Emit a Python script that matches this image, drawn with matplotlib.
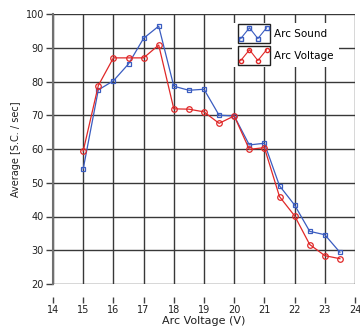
import matplotlib
matplotlib.use("Agg")
import matplotlib.pyplot as plt
from matplotlib.legend_handler import HandlerBase
from matplotlib.patches import Rectangle
from matplotlib.lines import Line2D

# Data
voltage = [15, 15.5, 16, 16.5, 17, 17.5, 18, 18.5, 19, 19.5,
           20, 20.5, 21, 21.5, 22, 22.5, 23, 23.5]
arc_sound = [54.1, 77.5, 80.2, 85.2, 92.8, 96.4, 78.6, 77.4, 77.7, 70.0,
             69.8, 61.2, 61.7, 49.1, 43.4, 35.6, 34.6, 29.4]
arc_voltage = [59.4, 78.8, 87.0, 87.0, 87.0, 90.8, 71.9, 71.8, 71.0, 67.6,
               69.8, 59.9, 60.4, 45.9, 40.2, 31.7, 28.4, 27.5]
xticks = list(range(14, 25))
yticks = list(range(20, 101, 10))

blue = "#3a5cc0"
red = "#e02828"


class ZigzagHandler(HandlerBase):
    # boxed zigzag sample like the original legend
    def create_artists(self, legend, orig, xd, yd, w, h, fontsize, trans):
        box = Rectangle((-xd, -yd - 4), w, h + 8, fill=False,
                        edgecolor="#202020", lw=1.0, transform=trans)
        xs = [-xd + 0.1 * w, -xd + 0.37 * w, -xd + 0.63 * w, -xd + 0.9 * w]
        ys = [-yd - 1, -yd + h + 1.5, -yd - 1, -yd + h + 1.5]
        ln = Line2D(xs, ys, color=orig.get_color(), lw=0.8,
                    marker=orig.get_marker(), markersize=3,
                    markerfacecolor="none",
                    markeredgecolor=orig.get_markeredgecolor(),
                    transform=trans)
        return [box, ln]


fig = plt.figure(figsize=(3.6, 3.3), dpi=100)
ax = fig.add_axes([53 / 360, 46 / 330, 302 / 360, 270 / 330])

l1, = ax.plot(voltage, arc_sound, color=blue, lw=0.9, marker="s",
              markersize=3.5, markerfacecolor="none", markeredgecolor=blue,
              markeredgewidth=0.9, label="Arc Sound", zorder=3)
l2, = ax.plot(voltage, arc_voltage, color=red, lw=0.9, marker="o",
              markersize=4, markerfacecolor="none", markeredgecolor=red,
              markeredgewidth=0.9, label="Arc Voltage", zorder=3)

ax.set_xlim(14, 24)
ax.set_ylim(20, 100)
ax.set_xticks(xticks)
ax.set_yticks(yticks)
ax.grid(True, color="#383838", lw=1.0)
ax.set_axisbelow(True)

for s in ax.spines.values():
    s.set_color("#707070")
    s.set_linewidth(1.5)
ax.spines["bottom"].set_position(("outward", 9))
ax.spines["bottom"].set_visible(False)
ax.spines["top"].set_visible(False)
ax.spines["right"].set_visible(False)

ax.tick_params(axis="x", length=4, width=1, color="#404040", pad=2,
               labelsize=7, labelcolor="#202020")
ax.tick_params(axis="y", length=5, width=1, color="#404040", pad=1.5,
               labelsize=7, labelcolor="#202020")

ax.set_xlabel("Arc Voltage (V)", fontsize=8, color="#202020", labelpad=1)
ax.set_ylabel("Average [S.C. / sec]", fontsize=7, color="#202020", labelpad=3)

leg = ax.legend(handles=[l1, l2], loc="upper left",
                bbox_to_anchor=(0.592, 0.965), fontsize=7.5,
                handler_map={Line2D: ZigzagHandler()},
                handlelength=3.1, handletextpad=0.4, labelspacing=1.15,
                frameon=True, fancybox=False, borderpad=0.55,
                borderaxespad=0)
leg.get_frame().set_edgecolor("none")
leg.get_frame().set_facecolor("white")
leg.get_frame().set_alpha(1)

fig.savefig("out.png", dpi=100)
